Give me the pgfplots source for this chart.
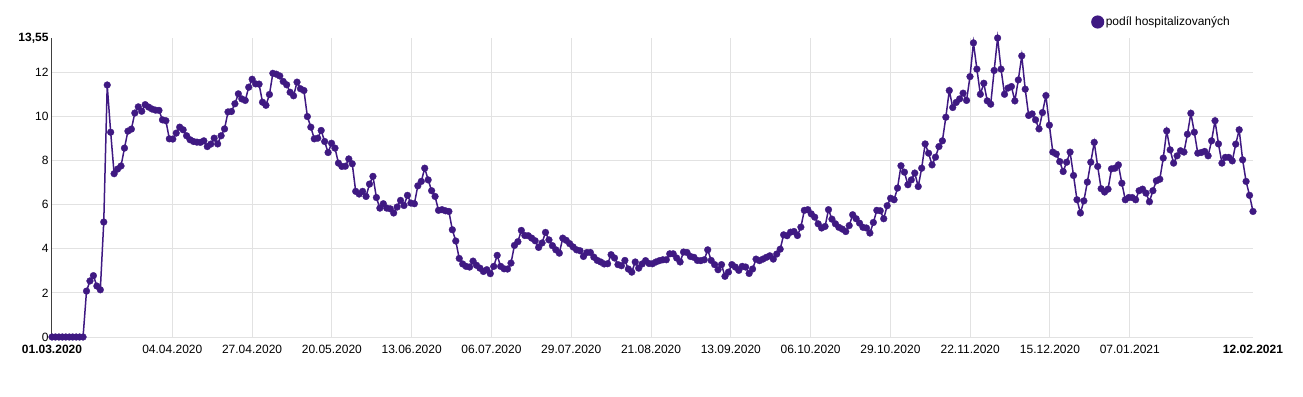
\documentclass[border=0pt]{standalone}
\usepackage{fontspec}
\setmainfont{Liberation Sans}
\usepackage{pgfplots}
\usepackage{pgfplotstable}
\pgfplotsset{compat=1.18}
\definecolor{purp}{RGB}{63,25,130}
\definecolor{gridc}{RGB}{226,226,226}
\newcommand{\toplabel}{\bfseries 13,55}

\pgfplotstableread[row sep=\\]{
d v\\
0 0\\1 0\\2 0\\3 0\\4 0\\5 0\\6 0\\7 0\\8 0\\9 0\\
10 2.08\\11 2.54\\12 2.78\\13 2.31\\14 2.14\\15 5.21\\16 11.42\\17 9.28\\18 7.40\\19 7.61\\
20 7.75\\21 8.56\\22 9.33\\23 9.42\\24 10.15\\25 10.43\\26 10.23\\27 10.53\\28 10.42\\29 10.33\\
30 10.28\\31 10.27\\32 9.84\\33 9.80\\34 8.98\\35 8.97\\36 9.24\\37 9.51\\38 9.39\\39 9.12\\
40 8.94\\41 8.86\\42 8.83\\43 8.82\\44 8.89\\45 8.63\\46 8.74\\47 9.01\\48 8.75\\49 9.12\\
50 9.43\\51 10.20\\52 10.22\\53 10.57\\54 11.02\\55 10.79\\56 10.72\\57 11.32\\58 11.68\\59 11.47\\
60 11.46\\61 10.64\\62 10.50\\63 10.99\\64 11.95\\65 11.91\\66 11.83\\67 11.58\\68 11.43\\69 11.09\\
70 10.93\\71 11.55\\72 11.25\\73 11.17\\74 9.99\\75 9.51\\76 8.98\\77 9.01\\78 9.36\\79 8.86\\
80 8.36\\81 8.78\\82 8.56\\83 7.88\\84 7.73\\85 7.74\\86 8.07\\87 7.85\\88 6.60\\89 6.48\\
90 6.60\\91 6.37\\92 6.93\\93 7.28\\94 6.32\\95 5.84\\96 6.04\\97 5.84\\98 5.81\\99 5.62\\
100 5.89\\101 6.19\\102 5.96\\103 6.42\\104 6.07\\105 6.04\\106 6.85\\107 7.05\\108 7.65\\109 7.12\\
110 6.63\\111 6.37\\112 5.74\\113 5.77\\114 5.72\\115 5.69\\116 4.86\\117 4.35\\118 3.56\\119 3.31\\
120 3.20\\121 3.17\\122 3.44\\123 3.25\\124 3.12\\125 2.97\\126 3.05\\127 2.87\\128 3.20\\129 3.70\\
130 3.20\\131 3.09\\132 3.08\\133 3.35\\134 4.15\\135 4.32\\136 4.83\\137 4.60\\138 4.59\\139 4.48\\
140 4.36\\141 4.06\\142 4.26\\143 4.74\\144 4.40\\145 4.14\\146 3.95\\147 3.80\\148 4.48\\149 4.38\\
150 4.23\\151 4.08\\152 3.95\\153 3.91\\154 3.65\\155 3.83\\156 3.83\\157 3.62\\158 3.47\\159 3.40\\
160 3.31\\161 3.32\\162 3.73\\163 3.58\\164 3.28\\165 3.23\\166 3.47\\167 3.08\\168 2.94\\169 3.40\\
170 3.12\\171 3.31\\172 3.46\\173 3.33\\174 3.32\\175 3.40\\176 3.46\\177 3.50\\178 3.50\\179 3.77\\
180 3.77\\181 3.58\\182 3.40\\183 3.85\\184 3.83\\185 3.65\\186 3.61\\187 3.47\\188 3.46\\189 3.50\\
190 3.95\\191 3.47\\192 3.28\\193 3.05\\194 3.28\\195 2.75\\196 2.94\\197 3.28\\198 3.17\\199 3.02\\
200 3.20\\201 3.17\\202 2.88\\203 3.08\\204 3.53\\205 3.46\\206 3.53\\207 3.61\\208 3.68\\209 3.53\\
210 3.76\\211 3.98\\212 4.63\\213 4.59\\214 4.75\\215 4.78\\216 4.60\\217 4.98\\218 5.74\\219 5.77\\
220 5.58\\221 5.43\\222 5.13\\223 4.94\\224 5.01\\225 5.77\\226 5.34\\227 5.13\\228 4.97\\229 4.89\\
230 4.78\\231 5.05\\232 5.54\\233 5.36\\234 5.16\\235 4.97\\236 4.94\\237 4.71\\238 5.19\\239 5.74\\
240 5.72\\241 5.36\\242 5.95\\243 6.29\\244 6.22\\245 6.75\\246 7.76\\247 7.47\\248 6.90\\249 7.12\\
250 7.43\\251 6.82\\252 7.65\\253 8.75\\254 8.33\\255 7.80\\256 8.15\\257 8.63\\258 8.89\\259 9.96\\
260 11.17\\261 10.40\\262 10.63\\263 10.79\\264 11.05\\265 10.72\\266 11.80\\267 13.33\\268 12.14\\269 11.00\\
270 11.50\\271 10.70\\272 10.55\\273 12.08\\274 13.55\\275 12.14\\276 11.00\\277 11.28\\278 11.35\\279 10.70\\
280 11.65\\281 12.74\\282 11.23\\283 10.04\\284 10.11\\285 9.84\\286 9.43\\287 10.17\\288 10.94\\289 9.60\\
290 8.38\\291 8.29\\292 7.95\\293 7.50\\294 7.92\\295 8.38\\296 7.32\\297 6.22\\298 5.62\\299 6.17\\
300 7.02\\301 7.92\\302 8.82\\303 7.73\\304 6.72\\305 6.57\\306 6.70\\307 7.62\\308 7.65\\309 7.80\\
310 6.97\\311 6.22\\312 6.32\\313 6.32\\314 6.22\\315 6.63\\316 6.70\\317 6.52\\318 6.13\\319 6.63\\
320 7.08\\321 7.15\\322 8.11\\323 9.34\\324 8.48\\325 7.88\\326 8.21\\327 8.44\\328 8.38\\329 9.19\\
330 10.14\\331 9.28\\332 8.33\\333 8.36\\334 8.41\\335 8.21\\336 8.89\\337 9.80\\338 8.75\\339 7.88\\
340 8.14\\341 8.14\\342 7.98\\343 8.74\\344 9.39\\345 8.03\\346 7.05\\347 6.42\\348 5.69\\
}\hosp

\begin{document}
\begin{tikzpicture}
\begin{axis}[
  at={(0pt,0pt)}, anchor=south west,
  scale only axis, width=1201pt, height=299pt,
  xmin=0, xmax=348, ymin=0, ymax=13.55,
  axis line style={draw=none},
  tick style={draw=none},
  xtick={34.86,57.98,81.10,104.22,127.34,150.46,173.58,196.70,219.82,242.94,266.06,289.18,312.30},
  xticklabels={04.04.2020,27.04.2020,20.05.2020,13.06.2020,06.07.2020,29.07.2020,21.08.2020,13.09.2020,06.10.2020,29.10.2020,22.11.2020,15.12.2020,07.01.2021},
  ytick={0,2,4,6,8,10,12},
  yticklabels={0,2,4,6,8,10,12},
  extra x ticks={0,348},
  extra x tick labels={\bfseries 01.03.2020,\bfseries 12.02.2021},
  extra x tick style={grid=none},
  extra y ticks={13.55},
  extra y tick labels={\toplabel},
  extra y tick style={grid=none},
  grid=major,
  major grid style={draw=gridc, line width=1pt},
  tick label style={font=\fontsize{12}{14}\selectfont, text=black},
  xticklabel style={yshift=-5pt},
  clip=false,
  legend style={at={(0.8651,1.0535)}, anchor=west, draw=none, fill=none,
    inner sep=0pt, font=\fontsize{12}{14}\selectfont,
    nodes={inner sep=1.5pt}},
]
\addplot[color=purp, line width=1.5pt, mark=*, mark size=3.4pt,
  mark options={solid, fill=purp, draw=purp, line width=0.3pt},
  legend image code/.code={\fill[purp] (0pt,0pt) circle (5.8pt);}]
  table[x=d, y=v] {\hosp};
\addlegendentry{podíl hospitalizovaných}
\draw[color=black!75, line width=1pt] (axis cs:0,0) -- (axis cs:0,13.55);
\end{axis}
\pgfresetboundingbox
\path[use as bounding box] (-52pt,-59pt) rectangle (1251pt,337pt);
\end{tikzpicture}
\end{document}
